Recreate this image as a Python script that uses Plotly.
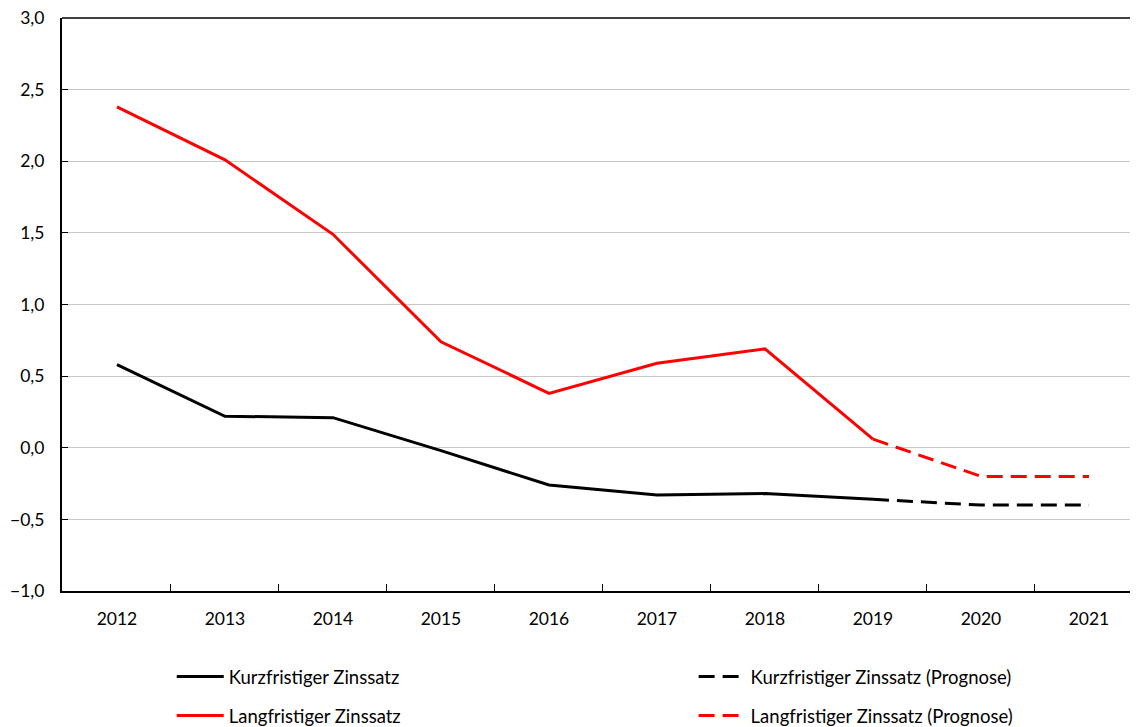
import plotly.graph_objects as go

years = ["2012", "2013", "2014", "2015", "2016", "2017", "2018", "2019", "2020", "2021"]
kurz = [0.58, 0.22, 0.21, -0.02, -0.26, -0.33, -0.32, -0.36, None, None]
kurz_prog = [None, None, None, None, None, None, None, -0.36, -0.40, -0.40]
lang = [2.38, 2.01, 1.49, 0.74, 0.38, 0.59, 0.69, 0.06, None, None]
lang_prog = [None, None, None, None, None, None, None, 0.06, -0.20, -0.20]
y_ticks = [-1.0, -0.5, 0.0, 0.5, 1.0, 1.5, 2.0, 2.5, 3.0]

FONT = "Lato, 'Open Sans', sans-serif"
FS = 17.5
DASH = "16px,8px"

fig = go.Figure()
fig.add_trace(go.Scatter(x=years, y=kurz, mode="lines", name="Kurzfristiger Zinssatz",
                         line=dict(color="black", width=3), legend="legend"))
fig.add_trace(go.Scatter(x=years, y=kurz_prog, mode="lines", name="Kurzfristiger Zinssatz (Prognose)",
                         line=dict(color="black", width=3, dash=DASH), legend="legend2"))
fig.add_trace(go.Scatter(x=years, y=lang, mode="lines", name="Langfristiger Zinssatz",
                         line=dict(color="#ff0000", width=3), legend="legend3"))
fig.add_trace(go.Scatter(x=years, y=lang_prog, mode="lines", name="Langfristiger Zinssatz (Prognose)",
                         line=dict(color="#ff0000", width=3, dash=DASH), legend="legend4"))

lc = dict(orientation="h", font=dict(family=FONT, size=18.5, color="black"),
          bgcolor="rgba(0,0,0,0)", borderwidth=0, xanchor="left", yanchor="middle",
          itemwidth=47)
X1, X2 = 0.102, 0.587
Y1, Y2 = -0.150, -0.218

fig.update_layout(
    width=1130, height=719,
    margin=dict(l=54, r=0, t=10, b=136, autoexpand=False),
    paper_bgcolor="white", plot_bgcolor="white",
    separators=",.",
    font=dict(family=FONT, size=FS, color="black"),
    showlegend=True,
    legend=dict(x=X1, y=Y1, **lc),
    legend2=dict(x=X2, y=Y1, **lc),
    legend3=dict(x=X1, y=Y2, **lc),
    legend4=dict(x=X2, y=Y2, **lc),
    xaxis=dict(type="category", range=[-0.509, 9.454], showgrid=False, showline=True,
               linecolor="black", linewidth=2, ticks="inside", tickson="boundaries",
               ticklen=7, tickcolor="black", tickwidth=1, ticklabelstandoff=11,
               automargin=False,
               tickfont=dict(family=FONT, size=FS, color="black")),
    yaxis=dict(range=[-1, 3], tickvals=y_ticks, tickformat=".1f", showgrid=True,
               gridcolor="#c8c8c8", gridwidth=1, zeroline=False, showline=True,
               linecolor="black", linewidth=2, ticks="inside", ticklen=6,
               tickcolor="black", tickwidth=1, ticklabelstandoff=12,
               automargin=False, ticklabeloverflow="allow",
               tickfont=dict(family=FONT, size=FS, color="black")),
    shapes=[dict(type="line", xref="paper", yref="paper", x0=0, x1=1, y0=1, y1=1,
                 line=dict(color="#404040", width=2))],
)

fig.write_html("out.html")
